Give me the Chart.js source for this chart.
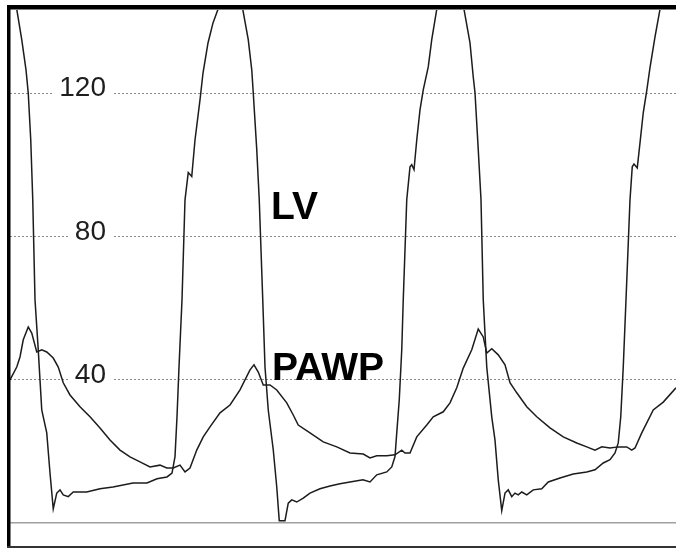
<!DOCTYPE html>
<html>
<head>
<meta charset="utf-8">
<script src="https://cdn.jsdelivr.net/npm/chart.js@4.4.1/dist/chart.umd.min.js"></script>
<style>
    html, body { margin: 0; padding: 0; background: #fff; }
    #wrap { position: relative; width: 676px; height: 548px; }
</style>
</head>
<body>
<div id="wrap"><canvas id="pressureChart"></canvas></div>
<script>

const lvTime = [0, 27, 47, 64, 73, 83, 91, 100, 113, 127, 147, 160, 173, 187, 200, 213, 233, 253, 307, 360, 412, 492, 548, 588, 628, 648, 660, 668, 676, 688, 700, 713, 727, 740, 760, 772, 792, 812, 832, 880,
    931, 953, 967, 973, 987, 997, 1011, 1020, 1033, 1053, 1067, 1077, 1100, 1113, 1127, 1147, 1173, 1200, 1240, 1280, 1320, 1360, 1412, 1440, 1467, 1507, 1527, 1540, 1547, 1557, 1567, 1573, 1587, 1600, 1607, 1616, 1627, 1640, 1653, 1673, 1687, 1707, 1760,
    1816, 1840, 1853, 1860, 1873, 1884, 1893, 1907, 1927, 1940, 1953, 1967, 1980, 1993, 2007, 2020, 2033, 2047, 2067, 2093, 2127, 2153, 2200, 2253, 2307, 2340, 2373, 2400, 2420, 2433, 2443, 2453, 2464, 2480, 2489, 2496, 2509, 2520, 2533, 2547, 2560, 2580, 2600, 2664];
const lvPressure = [152, 143.5, 135, 126.6, 120.1, 107, 90.3, 62.4, 48.4, 31.6, 25.2, 14, 4, 8.4, 9.3, 7.9, 7.4, 8.7, 8.7, 9.6, 10.1, 11.2, 11.2, 12.4, 12.9, 14, 18.6, 29.7, 43.6, 62.4, 90.3, 97.9, 96.8, 107, 118.2, 125.7, 134.1, 139.7, 143.5, 153,
    143.5, 135, 126.6, 120.2, 104.3, 90.3, 62.4, 43.6, 31.6, 20.5, 10.1, 0.7, 0.7, 5.6, 6.5, 5.9, 7, 8.4, 9.6, 10.4, 11, 11.5, 12.1, 11.5, 13.5, 14.3, 15.7, 18.6, 25.2, 34.4, 48.4, 62.4, 90.3, 99.5, 100.1, 98.7, 107, 115.4, 121, 127.4, 135, 143.5, 153,
    143.5, 134.1, 124.6, 120.2, 104.3, 90.3, 62.4, 43.6, 29.7, 23.2, 12.1, 3.5, 8.4, 9.3, 7.4, 8.4, 7.9, 8.7, 7.9, 9.3, 9.6, 11.5, 12.6, 13.7, 14.3, 14.9, 16.8, 17.7, 19.6, 22.4, 29.7, 43.6, 62.4, 90.3, 99.5, 100.3, 99.2, 106.2, 114.6, 120.8, 127.2, 135.8, 143.5, 152];

const pawpTime = [0, 27, 40, 53, 73, 87, 107, 127, 147, 173, 193, 213, 240, 280, 320, 360, 400, 440, 480, 520, 560, 600, 627, 653, 680, 700, 720, 747, 773, 800, 840, 880, 920, 960,
    976, 993, 1013, 1040, 1067, 1107, 1133, 1153, 1200, 1253, 1307, 1360, 1413, 1440, 1467, 1507, 1540, 1567, 1580, 1600, 1627, 1667, 1693, 1733, 1760, 1787, 1813, 1847,
    1873, 1893, 1907, 1927, 1953, 1980, 2000, 2027, 2067, 2107, 2160, 2213, 2267, 2307, 2340, 2367, 2400, 2433, 2467, 2487, 2500, 2527, 2573, 2613, 2664];
const pawpPressure = [40, 43.6, 46.4, 51.2, 54.8, 53.1, 47.8, 48.4, 47.8, 46.1, 43.6, 39.2, 35.8, 32.5, 29.7, 26.6, 23.2, 20.4, 18.5, 17.1, 15.7, 16.2, 15.4, 15.4, 16.2, 14.3, 15.4, 20.4, 24.1, 26.9, 30.8, 33, 37.2, 42.8,
    44.2, 42.2, 38.6, 38.6, 37.2, 33.6, 30.2, 27.4, 25.2, 22.7, 21.3, 19.6, 19.3, 18.2, 18.8, 18.8, 19.1, 20.4, 19.6, 19.6, 24.1, 27.4, 29.7, 31.1, 33.6, 37.8, 43.3, 48.4,
    54.2, 52, 47.5, 48.7, 47, 44.2, 39.2, 36.4, 32.5, 29.7, 26.6, 24.1, 22.4, 21.3, 20.4, 21.3, 21, 21.3, 21.3, 20.4, 21, 25.2, 31.6, 33.8, 37.8];

const gridValues = [0, 40, 80, 120];
const labelledValues = [40, 80, 120];
const traceNames = ['LV', 'PAWP'];
// where each trace name sits, in data units (time ms, pressure mmHg)
const traceNameTime = [1044, 1048];
const traceNamePressure = [85, 40];

const timeRange = [0, 2664];
const pressureRange = [-6.1, 143.3];

function toPoints(xs, ys) {
    return xs.map((x, i) => ({ x: x, y: ys[i] }));
}

// tick labels sit inside the plot, breaking the dotted grid line
const insideTicks = {
    id: 'insideTicks',
    beforeDatasetsDraw(chart) {
        const ctx = chart.ctx;
        const yScale = chart.scales.y;
        const right = chart.chartArea.left + 96;
        ctx.save();
        ctx.font = '28px "Liberation Sans", Arial, sans-serif';
        ctx.textAlign = 'right';
        ctx.textBaseline = 'alphabetic';
        labelledValues.forEach(v => {
            const y = yScale.getPixelForValue(v);
            const text = String(v);
            const w = ctx.measureText(text).width;
            ctx.fillStyle = '#fff';
            ctx.fillRect(right - w - 6, y - 3, w + 12, 6);
            ctx.fillStyle = '#1e1e1e';
            ctx.fillText(text, right, y + 3);
        });
        ctx.restore();
    }
};

// trace names and the plot frame
const traceLabels = {
    id: 'traceLabels',
    afterDatasetsDraw(chart) {
        const ctx = chart.ctx;
        const { x: xScale, y: yScale } = chart.scales;
        const area = chart.chartArea;
        ctx.save();
        ctx.font = 'bold 39px "Liberation Sans", Arial, sans-serif';
        ctx.fillStyle = '#000';
        ctx.textAlign = 'left';
        ctx.textBaseline = 'alphabetic';
        traceNames.forEach((name, i) => {
            ctx.fillText(name, xScale.getPixelForValue(traceNameTime[i]), yScale.getPixelForValue(traceNamePressure[i]));
        });

        ctx.fillStyle = '#000';
        ctx.fillRect(area.left - 3, area.top - 5, chart.width, 4.5);
        ctx.fillRect(area.left - 3, area.top - 5, 3.5, chart.height);
        ctx.fillStyle = '#333';
        ctx.fillRect(area.left - 3, area.bottom + 1, chart.width, 3);
        ctx.restore();
    }
};

const chartCtx = document.getElementById('pressureChart').getContext('2d');
new Chart(chartCtx, {
    type: 'line',
    data: {
        datasets: [{
            label: 'LV',
            data: toPoints(lvTime, lvPressure),
            borderColor: '#1c1c1c',
            borderWidth: 1.5,
            pointRadius: 0,
            tension: 0,
            clip: 0
        }, {
            label: 'PAWP',
            data: toPoints(pawpTime, pawpPressure),
            borderColor: '#1c1c1c',
            borderWidth: 1.5,
            pointRadius: 0,
            tension: 0,
            clip: 0
        }]
    },
    options: {
        responsive: true,
        maintainAspectRatio: false,
        animation: false,
        layout: { padding: { left: 10, top: 10, right: 0, bottom: 3 } },
        plugins: {
            legend: { display: false },
            tooltip: { enabled: false }
        },
        scales: {
            x: {
                type: 'linear',
                display: false,
                min: timeRange[0],
                max: timeRange[1]
            },
            y: {
                type: 'linear',
                min: pressureRange[0],
                max: pressureRange[1],
                afterBuildTicks: scale => {
                    scale.ticks = gridValues.map(v => ({ value: v }));
                },
                ticks: { display: false },
                grid: {
                    drawTicks: false,
                    tickLength: 0,
                    lineWidth: ctx => ctx.tick && ctx.tick.value === 0 ? 1.5 : 1,
                    color: ctx => ctx.tick && ctx.tick.value === 0 ? '#a0a0a0' : '#8a8a8a'
                },
                border: {
                    display: false,
                    dash: ctx => ctx.tick && ctx.tick.value === 0 ? [] : [2, 2]
                }
            }
        }
    },
    plugins: [insideTicks, traceLabels]
});
</script>
</body>
</html>
